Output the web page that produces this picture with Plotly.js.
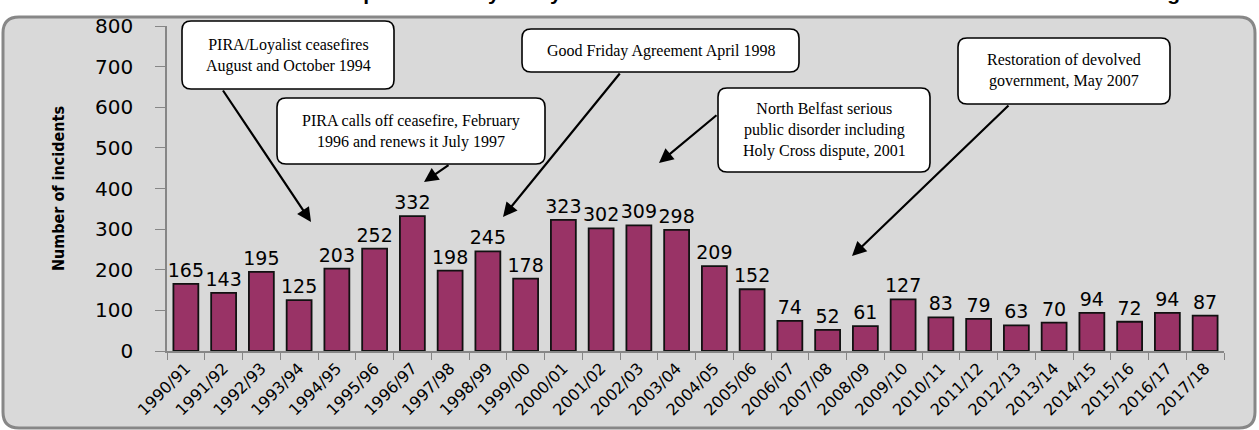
<!DOCTYPE html>
<html>
<head>
<meta charset="utf-8">
<script src="https://cdn.plot.ly/plotly-3.0.1.min.js"></script>
<style>
  html, body { margin: 0; padding: 0; background: #ffffff; }
  #chart { width: 1259px; height: 430px; }
</style>
</head>
<body>
<div id="chart"></div>
<script>
// ---- data ----
const categories = ['1990/91','1991/92','1992/93','1993/94','1994/95','1995/96','1996/97','1997/98','1998/99','1999/00',
  '2000/01','2001/02','2002/03','2003/04','2004/05','2005/06','2006/07','2007/08','2008/09','2009/10',
  '2010/11','2011/12','2012/13','2013/14','2014/15','2015/16','2016/17','2017/18'];
const incidents = [165,143,195,125,203,252,332,198,245,178,323,302,309,298,209,152,74,52,61,127,83,79,63,70,94,72,94,87];
const yTickValues = [0,100,200,300,400,500,600,700,800];
const chartTitle = 'Interface incidents reported each year by the North Belfast Interface Network Local Incident Monitoring';
const yTitle = 'Number of incidents';
const calloutTexts = [
  'PIRA/Loyalist ceasefires<br>August and October 1994',
  'PIRA calls off ceasefire, February<br>1996 and renews it July 1997',
  'Good Friday Agreement April 1998',
  'North Belfast serious<br>public disorder including<br>Holy Cross dispute, 2001',
  'Restoration of devolved<br>government, May 2007'
];

// ---- layout geometry (pixels) ----
const W = 1259, H = 430, L = 167, R = 35, T = 26, B = 79;
const PW = W - L - R, PH = H - T - B;
const fx = X => (X - L) / PW;
const fy = Y => (H - B - Y) / PH;

function roundRect(x0, y0, x1, y1, r) {
  const p = (X, Y) => fx(X).toFixed(5) + ',' + fy(Y).toFixed(5);
  return 'M' + p(x0 + r, y0) + ' L' + p(x1 - r, y0) + ' Q' + p(x1, y0) + ' ' + p(x1, y0 + r) +
    ' L' + p(x1, y1 - r) + ' Q' + p(x1, y1) + ' ' + p(x1 - r, y1) +
    ' L' + p(x0 + r, y1) + ' Q' + p(x0, y1) + ' ' + p(x0, y1 - r) +
    ' L' + p(x0, y0 + r) + ' Q' + p(x0, y0) + ' ' + p(x0 + r, y0) + ' Z';
}

// callout boxes [x0,y0,x1,y1] and arrows [tailX,tailY,headX,headY]
const boxes = [
  [182, 21, 394, 89],
  [277, 98, 545, 164],
  [522, 29, 799, 72],
  [718, 88, 930, 172],
  [958, 38, 1170, 104]
];
const arrows = [
  [222, 89, 311, 222],
  [450, 164, 424, 182],
  [621, 72, 503, 217],
  [718, 114, 659, 163],
  [1010, 104, 852, 256]
];

const shapes = [{
  type: 'path', xref: 'paper', yref: 'paper', layer: 'below',
  path: roundRect(3, 17, 1255, 428, 16),
  fillcolor: '#d9d9d9', line: { color: '#878787', width: 3 }
}];
boxes.forEach(b => shapes.push({
  type: 'path', xref: 'paper', yref: 'paper', layer: 'above',
  path: roundRect(b[0], b[1], b[2], b[3], 9),
  fillcolor: '#ffffff', line: { color: '#000000', width: 1.6 }
}));

const annotations = [];
calloutTexts.forEach((t, i) => {
  const b = boxes[i];
  annotations.push({
    xref: 'paper', yref: 'paper', x: fx((b[0] + b[2]) / 2), y: fy((b[1] + b[3]) / 2),
    xanchor: 'center', yanchor: 'middle', showarrow: false, text: t,
    font: { family: 'Liberation Serif, Times New Roman, serif', size: 16, color: '#000' }
  });
});
arrows.forEach(a => {
  annotations.push({
    xref: 'paper', yref: 'paper', x: fx(a[2]), y: fy(a[3]),
    axref: 'pixel', ayref: 'pixel', ax: a[0] - a[2], ay: a[1] - a[3],
    text: '', showarrow: true, arrowhead: 2, arrowsize: 1.3, arrowwidth: 2.2, arrowcolor: '#000'
  });
});
annotations.push({
  xref: 'paper', yref: 'paper', x: fx(150), y: 1, xanchor: 'left', yanchor: 'bottom', yshift: 20,
  showarrow: false, text: chartTitle,
  font: { family: 'Liberation Sans, Arial, sans-serif', size: 21, weight: 'bold', color: '#000' }
});

const trace = {
  type: 'bar', x: categories, y: incidents,
  marker: { color: '#993366', line: { color: '#111111', width: 1.8 } },
  text: incidents.map(String), textposition: 'outside', constraintext: 'none', cliponaxis: false,
  textfont: { family: 'DejaVu Sans, Verdana, sans-serif', size: 19, color: '#000' },
  hoverinfo: 'x+y'
};

const layout = {
  width: W, height: H,
  margin: { l: L, r: R, t: T, b: B, pad: 0 },
  paper_bgcolor: '#ffffff', plot_bgcolor: 'rgba(0,0,0,0)',
  showlegend: false, bargap: 0.34,
  xaxis: {
    type: 'category', tickson: 'boundaries', ticks: 'outside', ticklen: 7, tickcolor: '#868686',
    showline: true, linecolor: '#868686', linewidth: 1.5, showgrid: false,
    tickangle: -45, tickfont: { family: 'DejaVu Sans, Verdana, sans-serif', size: 16, color: '#000' },
    automargin: false
  },
  yaxis: {
    range: [0, 800], tickvals: yTickValues, ticks: 'outside', ticklen: 10, tickcolor: '#868686',
    showline: true, linecolor: '#868686', linewidth: 1.5, showgrid: false, zeroline: false,
    ticklabelstandoff: 18,
    tickfont: { family: 'DejaVu Sans, Verdana, sans-serif', size: 20, color: '#000' },
    title: { text: yTitle, standoff: 26,
      font: { family: 'DejaVu Sans Condensed, DejaVu Sans, sans-serif', stretch: 'condensed', size: 16, weight: 'bold', color: '#000' } },
    automargin: false
  },
  shapes: shapes,
  annotations: annotations
};

Plotly.newPlot('chart', [trace], layout, { displayModeBar: false, responsive: false });
</script>
</body>
</html>
